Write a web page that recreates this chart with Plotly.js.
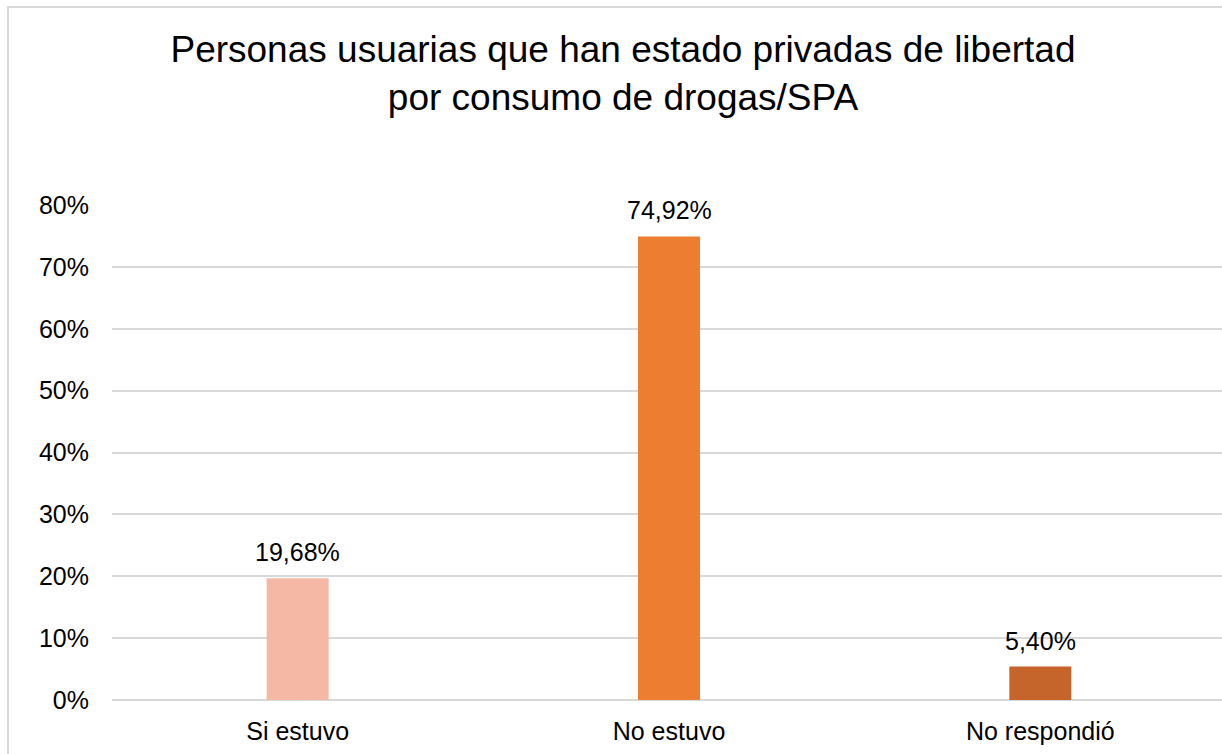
<!DOCTYPE html>
<html>
<head>
<meta charset="utf-8">
<script src="https://cdn.plot.ly/plotly-3.0.1.min.js"></script>
<style>
html, body { margin:0; padding:0; width:1222px; height:754px; overflow:hidden; background:#fff; }
#frame { position:absolute; left:7px; top:6px; width:1300px; height:800px; border-left:2px solid #D9D9D9; border-top:2px solid #D9D9D9; }
#chart { position:absolute; left:0; top:0; width:1230px; height:754px; }
</style>
</head>
<body>
<div id="frame"></div>
<div id="chart"></div>
<script>
const categories = ["Si estuvo", "No estuvo", "No respondió"];
const values = [0.1968, 0.7492, 0.0540];
const valueLabels = ["19,68%", "74,92%", "5,40%"];
const barColors = ["#F4B8A4", "#ED7D31", "#C5652B"];
const tickVals = [0, 0.1, 0.2, 0.3, 0.4, 0.5, 0.6, 0.7, 0.8];
const tickText = ["0%", "10%", "20%", "30%", "40%", "50%", "60%", "70%", "80%"];

const font = "Liberation Sans, Arial, sans-serif";

const labelAnnotations = categories.map((c, i) => ({
  x: c, y: values[i], xref: "x", yref: "y",
  text: valueLabels[i], showarrow: false,
  xanchor: "center", yanchor: "middle", yshift: 26,
  font: { family: font, size: 25, color: "#000" }
}));

Plotly.newPlot("chart", [{
  type: "bar",
  x: categories,
  y: values,
  marker: { color: barColors },
  hoverinfo: "none"
}], {
  width: 1230,
  height: 754,
  margin: { l: 112, r: 4, t: 205, b: 54 },
  paper_bgcolor: "rgba(0,0,0,0)",
  plot_bgcolor: "rgba(0,0,0,0)",
  showlegend: false,
  bargap: 0.833,
  annotations: labelAnnotations,
  title: {
    text: "Personas usuarias que han estado privadas de libertad<br>por consumo de drogas/SPA",
    font: { family: font, size: 37, color: "#000" },
    x: 623 / 1230, xanchor: "center", xref: "container",
    y: 1 - 62 / 754, yanchor: "top", yref: "container"
  },
  xaxis: {
    showgrid: false, showline: false, zeroline: false, ticks: "",
    tickfont: { family: font, size: 25, color: "#000" },
    ticklabelstandoff: 14,
    fixedrange: true
  },
  yaxis: {
    range: [0, 0.8],
    tickvals: tickVals, ticktext: tickText,
    showgrid: true, gridcolor: "#D9D9D9", gridwidth: 2,
    zeroline: true, zerolinecolor: "#D9D9D9", zerolinewidth: 2,
    showline: false, ticks: "",
    tickfont: { family: font, size: 25, color: "#000" },
    ticklabelstandoff: 22,
    fixedrange: true
  }
}, { displayModeBar: false, staticPlot: true });
</script>
</body>
</html>
